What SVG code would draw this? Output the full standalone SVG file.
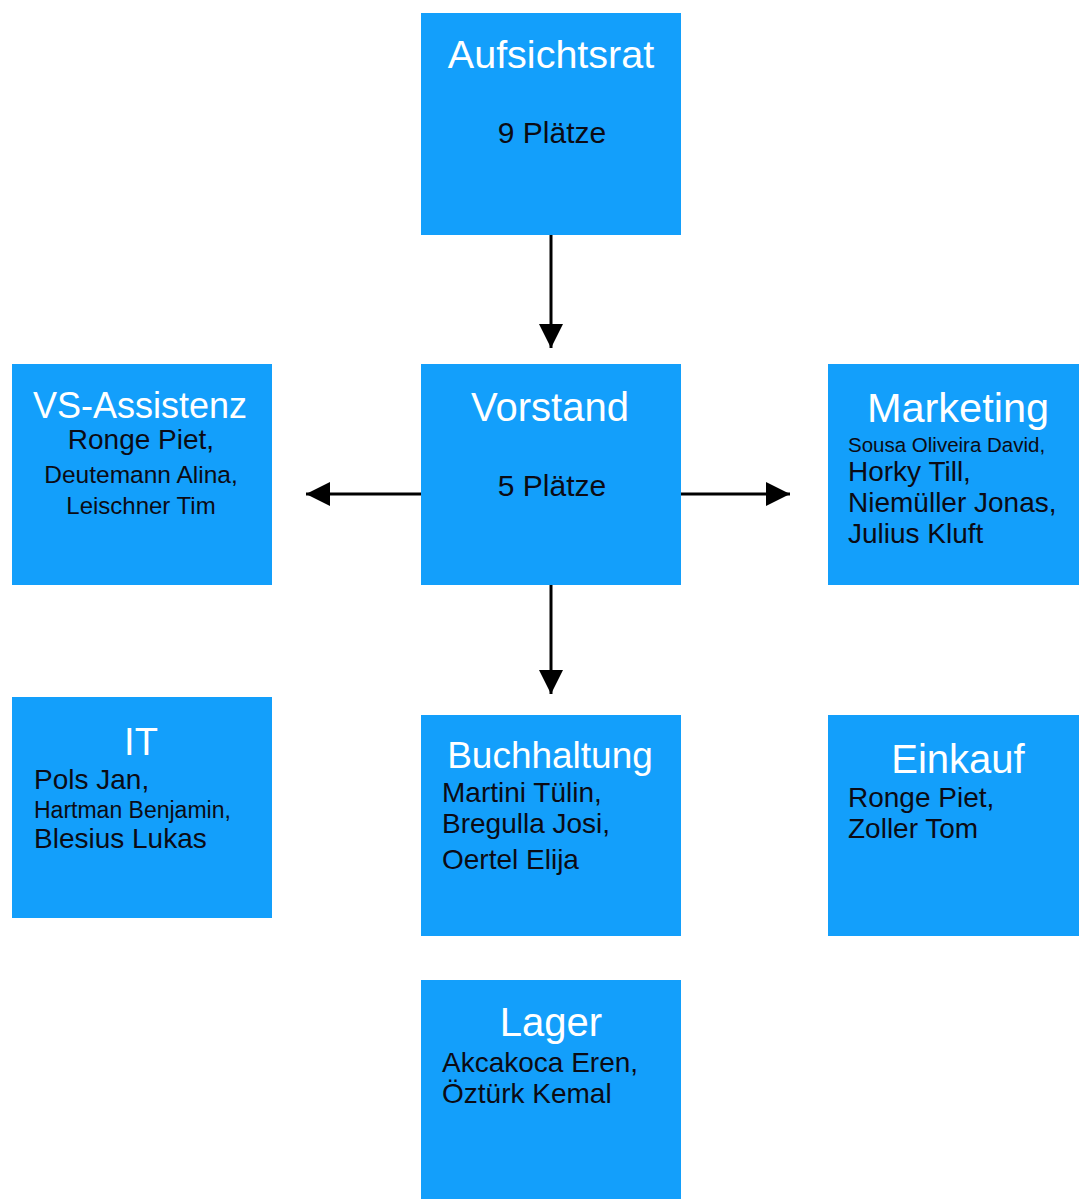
<svg xmlns="http://www.w3.org/2000/svg" width="1079" height="1199" viewBox="0 0 1079 1199">
<style>
.box{fill:#139ffb}
.t{font-family:"Liberation Sans",Arial,sans-serif;fill:#ffffff;text-anchor:middle}
.b{font-family:"Liberation Sans",Arial,sans-serif;fill:#0b0b14}
.c{text-anchor:middle}
.con{stroke:#000;stroke-width:3;fill:none}
</style>
<defs>
<marker id="ah" markerUnits="userSpaceOnUse" markerWidth="24" markerHeight="24" viewBox="0 0 20 20" refX="20" refY="10" orient="auto">
<path d="M0,0 L20,10 L0,20 Z" fill="#000"/>
</marker>
</defs>
<rect width="1079" height="1199" fill="#ffffff"/>
<g id="connectors">
<line class="con" x1="551" y1="235" x2="551" y2="348" marker-end="url(#ah)"/>
<line class="con" x1="421" y1="494" x2="306" y2="494" marker-end="url(#ah)"/>
<line class="con" x1="680" y1="494" x2="790" y2="494" marker-end="url(#ah)"/>
<line class="con" x1="551" y1="585" x2="551" y2="694" marker-end="url(#ah)"/>
</g>
<g id="aufsichtsrat">
<rect class="box" x="421" y="13" width="260" height="222"/>
<text class="t" x="551" y="68" font-size="39.5">Aufsichtsrat</text>
<text class="b c" x="552" y="143" font-size="30">9 Plätze</text>
</g>
<g id="vorstand">
<rect class="box" x="421" y="364" width="260" height="221"/>
<text class="t" x="550" y="421" font-size="40">Vorstand</text>
<text class="b c" x="552" y="496" font-size="30">5 Plätze</text>
</g>
<g id="vs-assistenz">
<rect class="box" x="12" y="364" width="260" height="221"/>
<text class="t" x="140" y="418" font-size="36">VS-Assistenz</text>
<text class="b c" x="141" y="449" font-size="28">Ronge Piet,</text>
<text class="b c" x="141" y="483" font-size="24.5">Deutemann Alina,</text>
<text class="b c" x="141" y="514" font-size="24">Leischner Tim</text>
</g>
<g id="marketing">
<rect class="box" x="828" y="364" width="251" height="221"/>
<text class="t" x="958" y="422" font-size="41.5">Marketing</text>
<text class="b" x="848" y="452" font-size="20.5">Sousa Oliveira David,</text>
<text class="b" x="848" y="481" font-size="28">Horky Till,</text>
<text class="b" x="848" y="512" font-size="28">Niemüller Jonas,</text>
<text class="b" x="848" y="543" font-size="28">Julius Kluft</text>
</g>
<g id="it">
<rect class="box" x="12" y="697" width="260" height="221"/>
<text class="t" x="141" y="755" font-size="38">IT</text>
<text class="b" x="34" y="789" font-size="28">Pols Jan,</text>
<text class="b" x="34" y="818" font-size="23">Hartman Benjamin,</text>
<text class="b" x="34" y="848" font-size="28">Blesius Lukas</text>
</g>
<g id="buchhaltung">
<rect class="box" x="421" y="715" width="260" height="221"/>
<text class="t" x="550" y="768" font-size="37">Buchhaltung</text>
<text class="b" x="442" y="802" font-size="28">Martini Tülin,</text>
<text class="b" x="442" y="833" font-size="28">Bregulla Josi,</text>
<text class="b" x="442" y="869" font-size="28">Oertel Elija</text>
</g>
<g id="einkauf">
<rect class="box" x="828" y="715" width="251" height="221"/>
<text class="t" x="958" y="773" font-size="40">Einkauf</text>
<text class="b" x="848" y="807" font-size="28">Ronge Piet,</text>
<text class="b" x="848" y="838" font-size="28">Zoller Tom</text>
</g>
<g id="lager">
<rect class="box" x="421" y="980" width="260" height="219"/>
<text class="t" x="551" y="1036" font-size="40">Lager</text>
<text class="b" x="442" y="1072" font-size="28">Akcakoca Eren,</text>
<text class="b" x="442" y="1103" font-size="28">Öztürk Kemal</text>
</g>
</svg>
